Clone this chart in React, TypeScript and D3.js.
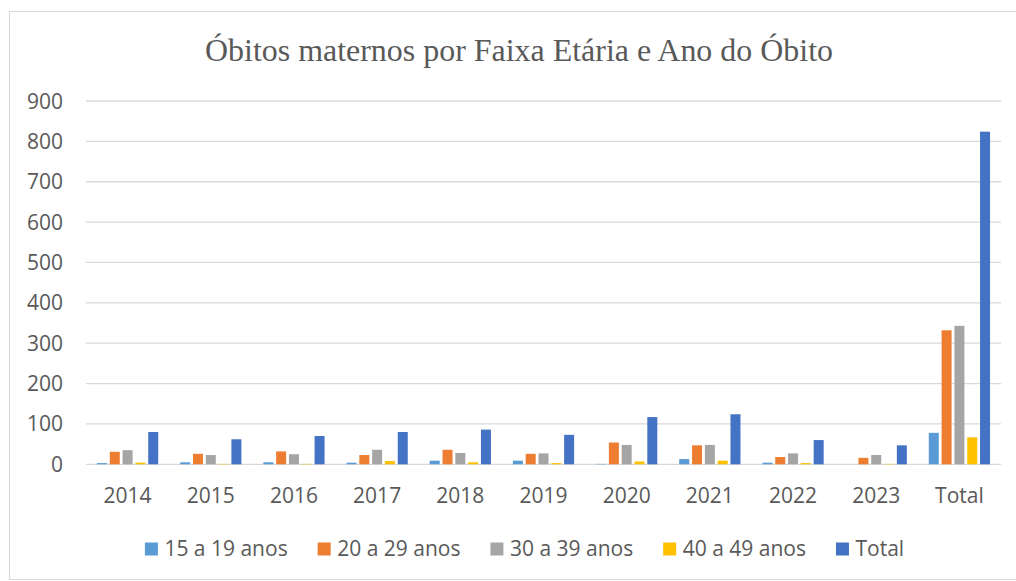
import React, { useEffect, useRef } from "react";
import * as d3 from "d3";

const categories = ["2014", "2015", "2016", "2017", "2018", "2019", "2020", "2021", "2022", "2023", "Total"];
const seriesNames = ["15 a 19 anos", "20 a 29 anos", "30 a 39 anos", "40 a 49 anos", "Total"];
const age15to19 = [3, 5, 5, 4, 9, 9, 1, 13, 4, 0, 78];
const age20to29 = [31, 26, 32, 23, 36, 26, 54, 47, 18, 16, 332];
const age30to39 = [35, 23, 25, 36, 28, 27, 48, 48, 27, 23, 343];
const age40to49 = [4, 1, 1, 8, 5, 3, 7, 9, 3, 1, 67];
const totals = [80, 62, 70, 80, 86, 73, 117, 124, 60, 47, 824];
const yTicks = [0, 100, 200, 300, 400, 500, 600, 700, 800, 900];
const colors = ["#5B9BD5", "#ED7D31", "#A5A5A5", "#FFC000", "#4472C4"];

const App = () => {
  const svgRef = useRef<SVGSVGElement>(null);

  useEffect(() => {
    const svg = d3.select(svgRef.current);
    svg.selectAll("*").remove();

    const width = 1016;
    const height = 581;
    const margin = { top: 101, right: 15, bottom: 117, left: 86 };
    const font = "'Open Sans', sans-serif";
    const fontSize = 21;
    const textColor = "#595959";
    const seriesValues = [age15to19, age20to29, age30to39, age40to49, totals];

    // chart frame
    svg
      .append("rect")
      .attr("x", 9.5)
      .attr("y", 11.5)
      .attr("width", width + 20)
      .attr("height", height - 13)
      .attr("fill", "#fff")
      .attr("stroke", "#d9d9d9")
      .attr("stroke-width", 1);

    // title
    svg
      .append("text")
      .attr("x", 519)
      .attr("y", 61)
      .attr("text-anchor", "middle")
      .attr("font-family", "'Liberation Serif', 'Times New Roman', serif")
      .attr("font-size", 31)
      .attr("textLength", 628)
      .attr("lengthAdjust", "spacingAndGlyphs")
      .attr("fill", textColor)
      .text("Óbitos maternos por Faixa Etária e Ano do Óbito");

    const x0 = d3
      .scaleBand()
      .domain(categories)
      .range([margin.left, width - margin.right])
      .paddingInner(0.23)
      .paddingOuter(0.115);

    const x1 = d3
      .scaleBand()
      .domain(seriesNames)
      .range([0, x0.bandwidth()])
      .paddingInner(0.22)
      .paddingOuter(0.11);

    const y = d3
      .scaleLinear()
      .domain([0, 900])
      .range([height - margin.bottom + 0.3, margin.top]);

    // gridlines
    svg
      .append("g")
      .selectAll("line")
      .data(yTicks)
      .enter()
      .append("line")
      .attr("x1", margin.left)
      .attr("x2", width - margin.right)
      .attr("y1", (d) => y(d))
      .attr("y2", (d) => y(d))
      .attr("stroke", "#d9d9d9")
      .attr("stroke-width", 1.3);

    // y labels
    svg
      .append("g")
      .selectAll("text")
      .data(yTicks)
      .enter()
      .append("text")
      .attr("x", 63)
      .attr("y", (d) => y(d))
      .attr("dy", "0.36em")
      .attr("text-anchor", "end")
      .attr("font-family", font)
      .attr("font-size", fontSize)
      .attr("fill", textColor)
      .text((d) => d);

    // bars
    const groups = svg
      .append("g")
      .selectAll("g")
      .data(categories)
      .enter()
      .append("g")
      .attr("transform", (d) => `translate(${x0(d)},0)`);

    groups
      .selectAll("rect")
      .data((_, i) => seriesNames.map((s, j) => ({ s, j, v: seriesValues[j][i] })))
      .enter()
      .append("rect")
      .attr("x", (d) => x1(d.s)!)
      .attr("y", (d) => y(d.v))
      .attr("width", x1.bandwidth())
      .attr("height", (d) => y(0) - y(d.v))
      .attr("fill", (d) => colors[d.j]);

    // x labels
    svg
      .append("g")
      .selectAll("text")
      .data(categories)
      .enter()
      .append("text")
      .attr("x", (d) => x0(d)! + x0.bandwidth() / 2)
      .attr("y", 503)
      .attr("text-anchor", "middle")
      .attr("font-family", font)
      .attr("font-size", fontSize)
      .attr("fill", textColor)
      .text((d) => d);

    // legend, laid out from measured text widths
    const legend = svg.append("g");
    const items = legend
      .selectAll("g")
      .data(seriesNames)
      .enter()
      .append("g");
    items
      .append("rect")
      .attr("y", 542.5)
      .attr("width", 13)
      .attr("height", 13)
      .attr("fill", (_, i) => colors[i]);
    items
      .append("text")
      .attr("x", 19.5)
      .attr("y", 556)
      .attr("font-family", font)
      .attr("font-size", fontSize)
      .attr("fill", textColor)
      .text((d) => d);

    const widths: number[] = [];
    items.each(function () {
      const t = d3.select(this).select("text").node() as SVGTextElement;
      widths.push(19.5 + t.getComputedTextLength());
    });
    const gap = 30;
    const total = d3.sum(widths) + gap * (widths.length - 1);
    let cx = 524.5 - total / 2;
    items.attr("transform", (_, i) => {
      const tx = cx;
      cx += widths[i] + gap;
      return `translate(${tx},0)`;
    });
  }, []);

  return (
    <svg
      ref={svgRef}
      width={1016}
      height={581}
      style={{ position: "absolute", left: 0, top: 0, background: "#fff" }}
    ></svg>
  );
};

export default App;
